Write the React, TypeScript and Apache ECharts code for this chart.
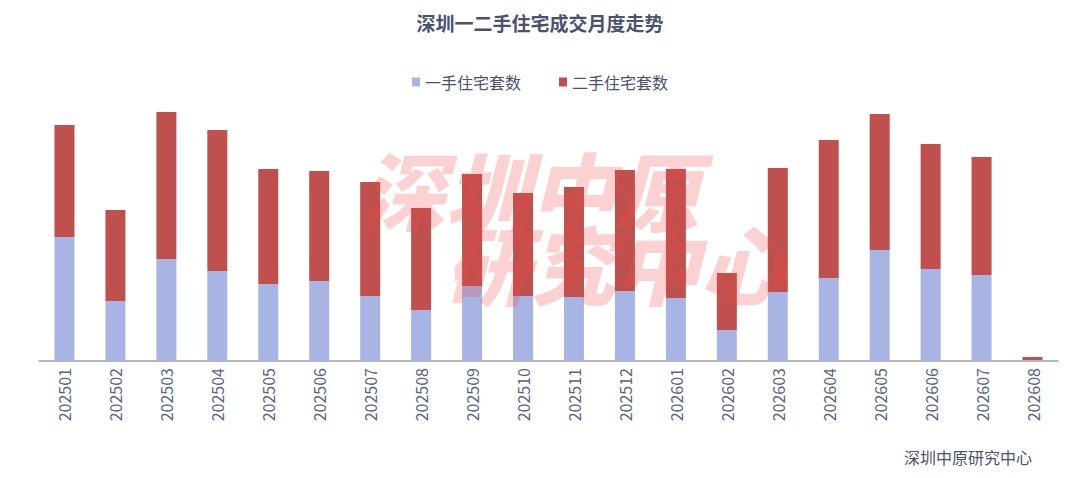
import React, { useEffect, useRef } from "react";
import * as echarts from "echarts";

const categories = [
  "202501", "202502", "202503", "202504", "202505", "202506", "202507",
  "202508", "202509", "202510", "202511", "202512", "202601", "202602",
  "202603", "202604", "202605", "202606", "202607", "202608",
];
const newHomes = [
  3720, 1800, 3060, 2700, 2310, 2400, 1950, 1530, 2250, 1950, 1920, 2100,
  1890, 930, 2070, 2490, 3330, 2760, 2580, 30,
];
const resaleHomes = [
  3360, 2730, 4410, 4230, 3450, 3300, 3420, 3060, 3360, 3090, 3300, 3630,
  3870, 1710, 3720, 4140, 4080, 3750, 3540, 90,
];
const seriesNames = ["一手住宅套数", "二手住宅套数"];
const titleText = "深圳一二手住宅成交月度走势";
const sourceText = "深圳中原研究中心";
const watermarkText = "深圳中原\n　研究中心";

const FONT = "'Noto Sans CJK SC', 'Noto Sans', sans-serif";

export default function App() {
  const ref = useRef<HTMLDivElement>(null);
  useEffect(() => {
    document.body.style.margin = "0";
    if (!ref.current) return;
    const chart = echarts.init(ref.current, undefined, { renderer: "svg" });
    chart.setOption({
      animation: false,
      backgroundColor: "#ffffff",
      textStyle: { fontFamily: FONT },
      title: {
        text: titleText,
        left: "center",
        top: 8,
        textStyle: { fontSize: 19, fontWeight: "bold", color: "#4b5270", fontFamily: FONT },
      },
      legend: {
        top: 69,
        left: "center",
        itemWidth: 8,
        itemHeight: 9,
        itemGap: 38,
        icon: "rect",
        textStyle: { fontSize: 16, color: "#4b5270", fontFamily: FONT },
        data: seriesNames,
      },
      grid: { left: 39, right: 22, top: 111, bottom: 117, containLabel: false },
      xAxis: {
        type: "category",
        data: categories,
        axisTick: { show: false },
        axisLine: { lineStyle: { color: "#a0a0a0", width: 1.5 } },
        axisLabel: { rotate: 90, fontSize: 16, color: "#5b6480", margin: 7, fontFamily: FONT },
      },
      yAxis: { type: "value", min: 0, max: 7500, show: false, splitLine: { show: false } },
      series: [
        {
          name: seriesNames[0],
          type: "bar",
          stack: "total",
          barWidth: 20,
          data: newHomes,
          itemStyle: { color: "#a8b4e4" },
        },
        {
          name: seriesNames[1],
          type: "bar",
          stack: "total",
          barWidth: 20,
          data: resaleHomes,
          itemStyle: { color: "#c0504d" },
        },
      ],
      graphic: [
        {
          type: "text",
          left: 360,
          top: 145,
          z: 100,
          style: {
            text: watermarkText,
            fontSize: 85,
            lineHeight: 74,
            fontWeight: 900,
            fontStyle: "italic",
            fontFamily: FONT,
            fill: "rgba(240, 70, 70, 0.25)",
          },
        },
        {
          type: "text",
          right: 48,
          bottom: 13,
          style: {
            text: sourceText,
            fontSize: 16,
            fontFamily: FONT,
            fill: "#4b5270",
          },
        },
      ],
    });
    return () => chart.dispose();
  }, []);
  return <div ref={ref} style={{ width: 1080, height: 478 }} />;
}
